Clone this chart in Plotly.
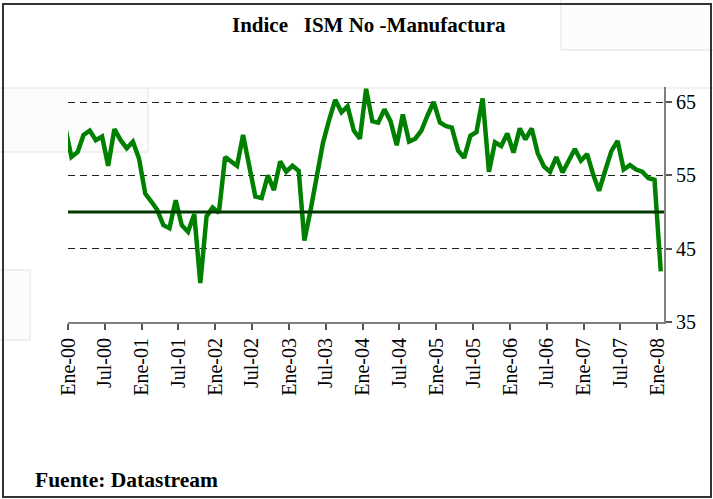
import pandas as pd
import plotly.graph_objects as go

# ---- data -------------------------------------------------------------
# monthly ISM non-manufacturing index, Dec-1999 .. Jan-2008
start_month = "1999-12-01"
ism_values = [
    61.6,
    57.5, 58.2, 60.5, 61.1, 59.8, 60.3, 56.3, 61.3, 59.8, 58.7, 59.6, 57.3,   # 2000
    52.5, 51.4, 50.3, 48.2, 47.8, 51.6, 48.2, 47.3, 49.7, 40.3, 49.4, 50.6,   # 2001
    49.9, 57.5, 56.9, 56.3, 60.5, 56.3, 52.1, 51.9, 55.0, 53.0, 56.9, 55.5,   # 2002
    56.3, 55.6, 46.1, 50.3, 54.4, 59.4, 62.5, 65.3, 63.6, 64.4, 61.1, 60.0,   # 2003
    66.8, 62.4, 62.2, 64.0, 62.4, 59.1, 63.3, 59.6, 60.0, 61.1, 63.2, 65.0,   # 2004
    62.2, 61.7, 61.5, 58.4, 57.4, 60.4, 60.9, 65.5, 55.5, 59.5, 59.0, 60.7,   # 2005
    58.1, 61.4, 59.9, 61.4, 58.0, 56.2, 55.5, 57.5, 55.4, 57.1, 58.6, 57.0,   # 2006
    57.9, 55.0, 52.9, 55.7, 58.3, 59.7, 55.8, 56.4, 55.8, 55.5, 54.6, 54.4,   # 2007
    41.9,                                                                     # 2008
]
reference_level = 50
tick_dates = ["2000-01-01", "2000-07-01", "2001-01-01", "2001-07-01", "2002-01-01",
              "2002-07-01", "2003-01-01", "2003-07-01", "2004-01-01", "2004-07-01",
              "2005-01-01", "2005-07-01", "2006-01-01", "2006-07-01", "2007-01-01",
              "2007-07-01", "2008-01-01"]
tick_labels = ["Ene-00", "Jul-00", "Ene-01", "Jul-01", "Ene-02", "Jul-02", "Ene-03",
               "Jul-03", "Ene-04", "Jul-04", "Ene-05", "Jul-05", "Ene-06", "Jul-06",
               "Ene-07", "Jul-07", "Ene-08"]
y_ticks = [35, 45, 55, 65]

title_text = "Indice&nbsp;&nbsp; ISM No -Manufactura"
source_text = "Fuente: Datastream"

# ---- figure -----------------------------------------------------------
W, H = 713, 499
L, R, T, B = 68, 49, 87, 177
pw, ph = W - L - R, H - T - B


def px_x(x):
    return (x - L) / pw


def px_y(y):
    return (H - B - y) / ph


dates = pd.date_range(start_month, periods=len(ism_values), freq="MS") + pd.Timedelta(days=17)

FONT = "Liberation Serif"

fig = go.Figure()
fig.add_trace(go.Scatter(
    x=dates, y=ism_values, mode="lines",
    line=dict(color="#008000", width=4.5),
    hoverinfo="skip", showlegend=False,
))

shapes = []
# faint background boxes (slide artefacts)
for (x0, y0, x1, y1) in [(-2, 88, 148, 152), (561, -2, 720, 50), (-2, 270, 30, 340)]:
    shapes.append(dict(type="rect", xref="paper", yref="paper", layer="below",
                       x0=px_x(x0), x1=px_x(x1), y0=px_y(y0), y1=px_y(y1),
                       line=dict(color="#ececec", width=1.5), fillcolor="#fcfcfc"))
shapes.append(dict(type="line", xref="paper", yref="paper", layer="below",
                   x0=px_x(148), x1=px_x(720), y0=px_y(88), y1=px_y(88),
                   line=dict(color="#ececec", width=1.5)))
# reference level at 50
shapes.append(dict(type="line", xref="paper", yref="y", x0=0, x1=1,
                   y0=reference_level, y1=reference_level, layer="above",
                   line=dict(color="#003a00", width=3)))
# outer frame
shapes.append(dict(type="rect", xref="paper", yref="paper",
                   x0=px_x(3), x1=px_x(711), y0=px_y(497), y1=px_y(4),
                   line=dict(color="#333333", width=2), fillcolor="rgba(0,0,0,0)"))

fig.update_layout(
    width=W, height=H,
    margin=dict(l=L, r=R, t=T, b=B),
    paper_bgcolor="white",
    plot_bgcolor="rgba(0,0,0,0)",
    font=dict(family=FONT, color="black", size=20),
    shapes=shapes,
    annotations=[
        dict(text="<b>" + title_text + "</b>", xref="paper", yref="paper",
             x=px_x(369), y=px_y(25), xanchor="center", yanchor="middle",
             showarrow=False, font=dict(family=FONT, size=21, color="black")),
        dict(text="<b>" + source_text + "</b>", xref="paper", yref="paper",
             x=px_x(33), y=px_y(480), xanchor="left", yanchor="middle",
             showarrow=False, font=dict(family=FONT, size=21.5, color="black")),
    ],
    xaxis=dict(
        type="date", range=["2000-01-01", "2008-02-03"],
        tickmode="array", tickvals=tick_dates, ticktext=tick_labels,
        tickangle=-90, ticks="outside", ticklen=6, tickwidth=1.5, tickcolor="#555555",
        showline=True, linecolor="#808080", linewidth=2,
        showgrid=False, zeroline=False, automargin=False,
        tickfont=dict(family=FONT, size=20, color="black"),
    ),
    yaxis=dict(
        range=[35, 67.05], side="right",
        tickmode="array", tickvals=y_ticks,
        ticks="outside", ticklen=6, tickwidth=1.5, tickcolor="#555555",
        showline=True, linecolor="#808080", linewidth=2,
        showgrid=True, gridcolor="#222222", gridwidth=1, griddash="7px,5px",
        zeroline=False, automargin=False,
        tickfont=dict(family=FONT, size=20, color="black"),
    ),
)

fig.write_html(
    "out.html",
    config={"displayModeBar": False},
    post_script="document.body.style.margin='0';document.body.style.overflow='hidden';",
)
